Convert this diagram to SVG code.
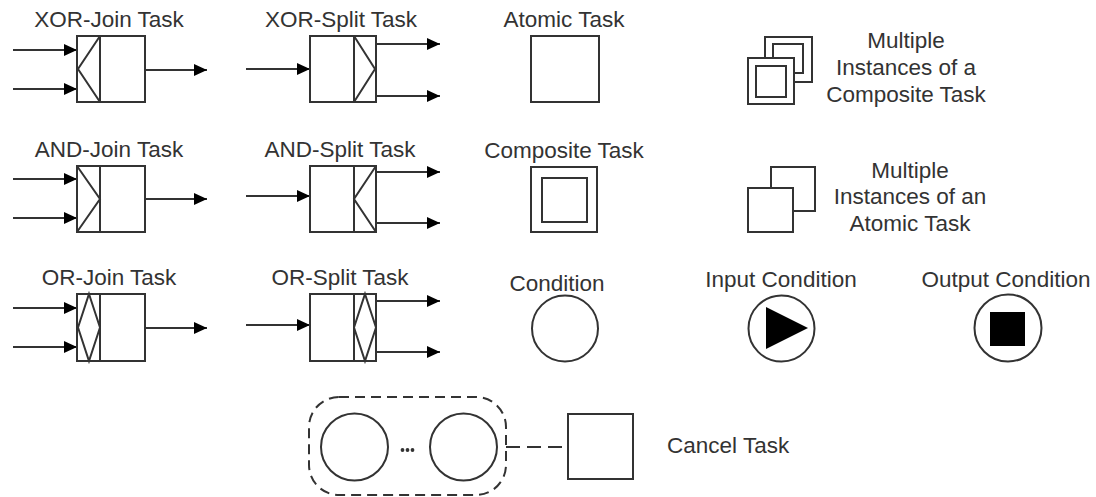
<svg xmlns="http://www.w3.org/2000/svg" width="1096" height="497" viewBox="0 0 1096 497">
  <defs>
    <marker id="arrow" markerUnits="userSpaceOnUse" markerWidth="14" markerHeight="12" refX="13" refY="6" orient="auto">
      <path d="M0,0 L13,6 L0,12 z" fill="#000"/>
    </marker>
    <style>
      .shape { fill: #fff; stroke: #333; stroke-width: 2; }
      .line { fill: none; stroke: #333; stroke-width: 2; }
      .flow { fill: none; stroke: #333; stroke-width: 2; marker-end: url(#arrow); }
      .dash { fill: none; stroke: #333; stroke-width: 2; stroke-dasharray: 10 6; }
      .label { font-family: "Liberation Sans", Arial, sans-serif; font-size: 22.5px; fill: #333; text-anchor: middle; }
      .solid { fill: #000; }
    </style>
  </defs>
  <rect width="1096" height="497" fill="#fff"/>

  <!-- arcs between tasks -->
  <g id="connectors">
    <!-- XOR join -->
    <line class="flow" x1="13" y1="50" x2="77" y2="50"/>
    <line class="flow" x1="13" y1="89" x2="77" y2="89"/>
    <line class="flow" x1="145" y1="70" x2="207" y2="70"/>
    <!-- XOR split -->
    <line class="flow" x1="246" y1="69" x2="310" y2="69"/>
    <line class="flow" x1="376" y1="44" x2="440" y2="44"/>
    <line class="flow" x1="376" y1="96" x2="440" y2="96"/>
    <!-- AND join -->
    <line class="flow" x1="13" y1="179" x2="77" y2="179"/>
    <line class="flow" x1="13" y1="218" x2="77" y2="218"/>
    <line class="flow" x1="145" y1="199" x2="207" y2="199"/>
    <!-- AND split -->
    <line class="flow" x1="246" y1="196" x2="310" y2="196"/>
    <line class="flow" x1="376" y1="172" x2="440" y2="172"/>
    <line class="flow" x1="376" y1="223" x2="440" y2="223"/>
    <!-- OR join -->
    <line class="flow" x1="13" y1="308" x2="77" y2="308"/>
    <line class="flow" x1="13" y1="347" x2="77" y2="347"/>
    <line class="flow" x1="145" y1="328" x2="207" y2="328"/>
    <!-- OR split -->
    <line class="flow" x1="246" y1="325" x2="310" y2="325"/>
    <line class="flow" x1="376" y1="301" x2="440" y2="301"/>
    <line class="flow" x1="376" y1="352" x2="440" y2="352"/>
    <!-- cancellation link -->
    <line class="line" x1="506" y1="447" x2="568" y2="447" stroke-dasharray="14 7"/>
  </g>

  <g id="xor-join">
    <text class="label" x="109" y="27">XOR-Join Task</text>
    <rect class="shape" x="77" y="36" width="68" height="66"/>
    <line class="line" x1="100" y1="36" x2="100" y2="102"/>
    <polyline class="line" points="100,36 78,69 100,102"/>
  </g>

  <g id="xor-split">
    <text class="label" x="341" y="27">XOR-Split Task</text>
    <rect class="shape" x="310" y="36" width="66" height="66"/>
    <line class="line" x1="354" y1="36" x2="354" y2="102"/>
    <polyline class="line" points="354,36 375,69 354,102"/>
  </g>

  <g id="atomic-task">
    <text class="label" x="564" y="27">Atomic Task</text>
    <rect class="shape" x="531" y="36" width="68" height="66"/>
  </g>

  <g id="multi-composite">
    <rect class="shape" x="765" y="37" width="47" height="45"/>
    <rect class="shape" x="773" y="44" width="30" height="29"/>
    <rect class="shape" x="748" y="58" width="46" height="46"/>
    <rect class="shape" x="756" y="66" width="30" height="31"/>
    <text class="label" x="906" y="48">Multiple</text>
    <text class="label" x="906" y="75">Instances of a</text>
    <text class="label" x="906" y="102">Composite Task</text>
  </g>

  <g id="and-join">
    <text class="label" x="109" y="157">AND-Join Task</text>
    <rect class="shape" x="77" y="166" width="68" height="66"/>
    <line class="line" x1="100" y1="166" x2="100" y2="232"/>
    <polyline class="line" points="77,166 100,199 77,232"/>
  </g>

  <g id="and-split">
    <text class="label" x="340" y="157">AND-Split Task</text>
    <rect class="shape" x="310" y="166" width="66" height="66"/>
    <line class="line" x1="354" y1="166" x2="354" y2="232"/>
    <polyline class="line" points="376,166 354,199 376,232"/>
  </g>

  <g id="composite-task">
    <text class="label" x="564" y="158">Composite Task</text>
    <rect class="shape" x="531" y="167" width="66" height="65"/>
    <rect class="shape" x="542" y="178" width="45" height="44"/>
  </g>

  <g id="multi-atomic">
    <rect class="shape" x="771" y="167" width="44" height="44"/>
    <rect class="shape" x="748" y="188" width="45" height="44"/>
    <text class="label" x="910" y="178">Multiple</text>
    <text class="label" x="910" y="204">Instances of an</text>
    <text class="label" x="910" y="231">Atomic Task</text>
  </g>

  <g id="or-join">
    <text class="label" x="109" y="285">OR-Join Task</text>
    <rect class="shape" x="77" y="294" width="68" height="67"/>
    <line class="line" x1="100" y1="294" x2="100" y2="361"/>
    <polygon class="line" points="89,294 100,327.5 89,361 78,327.5"/>
  </g>

  <g id="or-split">
    <text class="label" x="340" y="285">OR-Split Task</text>
    <rect class="shape" x="310" y="294" width="66" height="67"/>
    <line class="line" x1="354" y1="294" x2="354" y2="361"/>
    <polygon class="line" points="365,294 376,327.5 365,361 354,327.5"/>
  </g>

  <g id="condition">
    <text class="label" x="557" y="291">Condition</text>
    <circle class="shape" cx="565" cy="328.5" r="33"/>
  </g>

  <g id="input-condition">
    <text class="label" x="781" y="287">Input Condition</text>
    <circle class="shape" cx="781.5" cy="328.5" r="33"/>
    <polygon class="solid" points="766,307 808,328 766,349"/>
  </g>

  <g id="output-condition">
    <text class="label" x="1006" y="287">Output Condition</text>
    <circle class="shape" cx="1008" cy="328" r="33.5"/>
    <rect class="solid" x="990" y="312" width="35" height="34"/>
  </g>

  <g id="cancel-region">
    <rect class="dash" x="309" y="397" width="197" height="98" rx="30" ry="30"/>
    <circle class="shape" cx="354.5" cy="447" r="33.5"/>
    <circle class="shape" cx="463.5" cy="447" r="33.5"/>
    <circle cx="402.5" cy="450" r="1.9" fill="#333"/>
    <circle cx="407.5" cy="450" r="1.9" fill="#333"/>
    <circle cx="412.5" cy="450" r="1.9" fill="#333"/>
  </g>

  <g id="cancel-task">
    <rect class="shape" x="568" y="414" width="65" height="65"/>
    <text class="label" x="667" y="453" style="text-anchor: start">Cancel Task</text>
  </g>
</svg>
